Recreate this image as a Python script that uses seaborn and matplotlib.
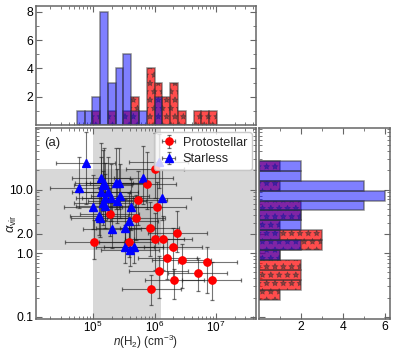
import numpy as np
import pandas as pd
import matplotlib
matplotlib.use("Agg")
import matplotlib.pyplot as plt
import seaborn as sns

# ---------------- data (log10 values) ----------------
proto_logn = [6.01, 5.88, 5.73, 6.04, 5.27, 5.70, 5.92, 6.37, 6.00, 6.14, 5.58,
              5.02, 6.30, 6.21, 6.44, 6.86, 6.07, 6.70, 6.32, 6.93, 5.95]
proto_loga = [1.32, 1.09, 0.84, 0.72, 0.62, 0.56, 0.40, 0.31, 0.23, 0.23, 0.18,
              0.17, 0.10, -0.07, -0.11, -0.135, -0.28, -0.32, -0.43, -0.43, -0.57]
proto_err_lo = [0.45, 0.40, 0.40, 0.45, 0.35, 0.35, 0.45, 0.30, 0.50, 0.50, 0.24,
                0.26, 0.55, 0.34, 0.44, 0.50, 0.42, 0.27, 0.29, 0.30, 0.25]
proto_err_hi = [0.57, 0.50, 0.45, 0.40, 0.40, 0.35, 0.40, 0.35, 0.40, 0.35, 0.30,
                0.35, 0.30, 0.30, 0.25, 0.23, 0.24, 0.25, 0.18, 0.29, 0.22]

star_logn = [4.88, 4.78, 6.07, 5.82, 6.12, 5.31, 5.52, 5.52, 5.60, 5.66, 5.13,
             5.18, 5.16, 5.13, 5.25, 5.20, 5.30, 5.37, 5.42, 5.44, 5.39, 5.17,
             5.20, 5.00, 5.61, 5.10, 5.12, 5.58]
star_loga = [1.417, 1.03, 1.43, 1.18, 0.87, 0.375, 0.40, 0.089, 0.047, 0.089, 1.19,
             1.11, 1.07, 0.96, 0.96, 0.87, 0.86, 1.10, 1.10, 0.90, 0.82, 0.79,
             0.74, 0.73, 0.72, 0.59, 0.56, 0.50]
star_err_lo = [0.65, 0.32, 0.40, 0.40, 0.35, 0.30, 0.30, 0.25, 0.25, 0.25, 0.40,
               0.40, 0.40, 0.35, 0.35, 0.35, 0.35, 0.40, 0.40, 0.35, 0.35, 0.35,
               0.35, 0.35, 0.35, 0.30, 0.30, 0.30]
star_err_hi = [0.49, 0.49, 0.45, 0.50, 0.45, 0.45, 0.45, 0.35, 0.35, 0.35, 0.55,
               0.55, 0.55, 0.55, 0.55, 0.55, 0.55, 0.55, 0.55, 0.50, 0.50, 0.50,
               0.50, 0.50, 0.45, 0.45, 0.45, 0.45]
logn_err = 0.477

# histogram of log n(H2): 18 equal bins
top_bin_lo, top_bin_hi, top_nbins = 4.735, 7.016, 18
top_star_counts = [1, 1, 2, 8, 3, 4, 5, 1, 1, 0, 2, 0, 0, 0, 0, 0, 0, 0]
top_proto_counts = [0, 0, 1, 0, 1, 0, 1, 2, 0, 4, 3, 2, 3, 1, 0, 1, 1, 1]

# histogram of log alpha_vir: 14 equal bins (bottom to top)
right_bin_lo, right_bin_hi, right_nbins = -0.734, 1.453, 14
right_star_counts = [0, 0, 0, 0, 1, 2, 1, 2, 2, 5, 6, 5, 2, 2]
right_proto_counts = [1, 2, 2, 2, 1, 3, 3, 1, 2, 2, 0, 1, 0, 1]

# shaded ranges (log10)
band_logn = (5.0, 6.11)
band_loga = (0.05, 1.33)

xtick_vals = [5, 6, 7]
xtick_labels = ["$10^5$", "$10^6$", "$10^7$"]
ytick_vals = [-1, 0, np.log10(2), 1]
ytick_labels = ["0.1", "1.0", "2.0", "10.0"]

# ---------------- style ----------------
sns.set_theme(style="white")
plt.rcParams["font.family"] = ["Liberation Sans", "DejaVu Sans"]
plt.rcParams["mathtext.fontset"] = "custom"
plt.rcParams["mathtext.rm"] = "Liberation Sans"
plt.rcParams["mathtext.it"] = "Liberation Sans:italic"
plt.rcParams["mathtext.bf"] = "Liberation Sans:bold"
plt.rcParams["hatch.linewidth"] = 0.6

FS = 8.8
spine_col = "0.4"

fig = plt.figure(figsize=(3.99, 3.49), dpi=100)
ax = fig.add_axes([0.0902, 0.087, 0.5514, 0.5462])
axt = fig.add_axes([0.0902, 0.6418, 0.5514, 0.341], sharex=ax)
axr = fig.add_axes([0.649, 0.087, 0.3284, 0.5462], sharey=ax)

# shaded bands
ax.axvspan(*band_logn, color="0.5", alpha=0.3, lw=0, zorder=0)
ax.axhspan(*band_loga, color="0.5", alpha=0.3, lw=0, zorder=0)

ecol = (0.1, 0.1, 0.1, 0.6)
ax.errorbar(proto_logn, proto_loga, xerr=logn_err, yerr=[proto_err_lo, proto_err_hi],
            fmt="o", color="red", mec="red", ms=5.2, ecolor=ecol, elinewidth=0.8,
            capsize=1.6, capthick=0.9, label="Protostellar", zorder=2)
ax.errorbar(star_logn, star_loga, xerr=logn_err, yerr=[star_err_lo, star_err_hi],
            fmt="^", color="blue", mec="blue", ms=5.2, ecolor=ecol, elinewidth=0.8,
            capsize=1.6, capthick=0.9, label="Starless", zorder=2)
sns.scatterplot(x=proto_logn, y=proto_loga, ax=ax, marker="o", color="red",
                edgecolor="red", s=30, linewidth=0, zorder=4, legend=False)
sns.scatterplot(x=star_logn, y=star_loga, ax=ax, marker="^", color="blue",
                edgecolor="blue", s=30, linewidth=0, zorder=4, legend=False)

leg = ax.legend(loc="upper right", fontsize=FS + 0.4, frameon=True, handletextpad=0.3,
                borderpad=0.35, labelspacing=0.35, handlelength=1.6,
                borderaxespad=0.35)
leg.get_frame().set_edgecolor("0.75")

ax.text(0.035, 0.955, "(a)", transform=ax.transAxes, ha="left", va="top", fontsize=FS + 0.7)

ax.set_xlim(4.073, 7.65)
ax.set_ylim(-1.031, 1.969)
ax.set_xlabel("$n$(H$_2$) (cm$^{-3}$)", fontsize=8.4)
ax.xaxis.set_label_coords(0.5, -0.075)
ax.set_ylabel(r"$\alpha_{\rm vir}$", fontsize=FS + 0.5)
ax.yaxis.set_label_coords(-0.078, 0.5)
ax.set_xticks(xtick_vals)
ax.set_xticklabels(xtick_labels)
xminor = [np.log10(k * 10.0 ** m) for m in range(4, 8) for k in range(2, 10)]
ax.set_xticks([v for v in xminor if 4.073 < v < 7.65], minor=True)
ax.set_yticks(ytick_vals)
ax.set_yticklabels(ytick_labels)
yminor = [np.log10(k * 10.0 ** m) for m in range(-2, 2) for k in range(2, 10)]
ax.set_yticks([v for v in yminor if -1.031 < v < 1.969 and abs(v - np.log10(2)) > 1e-6], minor=True)

# ---------------- top histogram ----------------
top_edges = np.linspace(top_bin_lo, top_bin_hi, top_nbins + 1)
top_df = pd.DataFrame({"logn": 0.5 * (top_edges[:-1] + top_edges[1:]),
                       "proto": top_proto_counts, "star": top_star_counts})
edge_col = (0.2, 0.2, 0.2, 0.55)
sns.histplot(data=top_df, x="logn", weights="proto", bins=list(top_edges), ax=axt,
             facecolor=(1, 0, 0, 0.7), edgecolor=edge_col, hatch="**", linewidth=1.1)
sns.histplot(data=top_df, x="logn", weights="star", bins=list(top_edges), ax=axt,
             facecolor=(0, 0, 1, 0.5), edgecolor=edge_col, linewidth=1.1)
axt.set_ylim(0, 8.42)
axt.set_yticks([2, 4, 6, 8])
axt.set_yticks([1, 3, 5, 7], minor=True)
axt.set_xlabel("")
axt.set_ylabel("")

# ---------------- right histogram ----------------
r_edges = np.linspace(right_bin_lo, right_bin_hi, right_nbins + 1)
r_df = pd.DataFrame({"loga": 0.5 * (r_edges[:-1] + r_edges[1:]),
                     "proto": right_proto_counts, "star": right_star_counts})
sns.histplot(data=r_df, y="loga", weights="proto", bins=list(r_edges), ax=axr,
             facecolor=(1, 0, 0, 0.7), edgecolor=edge_col, hatch="**", linewidth=1.1)
sns.histplot(data=r_df, y="loga", weights="star", bins=list(r_edges), ax=axr,
             facecolor=(0, 0, 1, 0.5), edgecolor=edge_col, linewidth=1.1)
axr.set_xlim(0, 6.25)
axr.set_xticks([2, 4, 6])
axr.set_xticks([1, 3, 5], minor=True)
axr.set_xlabel("")
axr.set_ylabel("")

for a in (ax, axt, axr):
    a.tick_params(which="both", direction="in", top=True, right=True, bottom=True,
                  left=True, colors=spine_col, labelcolor="black", labelsize=FS, pad=2)
    a.tick_params(which="major", length=4, width=0.8)
    a.tick_params(which="minor", length=2, width=0.6)
    for s in a.spines.values():
        s.set_color(spine_col)
        s.set_linewidth(1.1)
ax.tick_params(axis="x", which="both", pad=1, labelsize=8.4)
axt.tick_params(labelbottom=False)
axr.tick_params(labelleft=False)

fig.savefig("out.png", dpi=100)
